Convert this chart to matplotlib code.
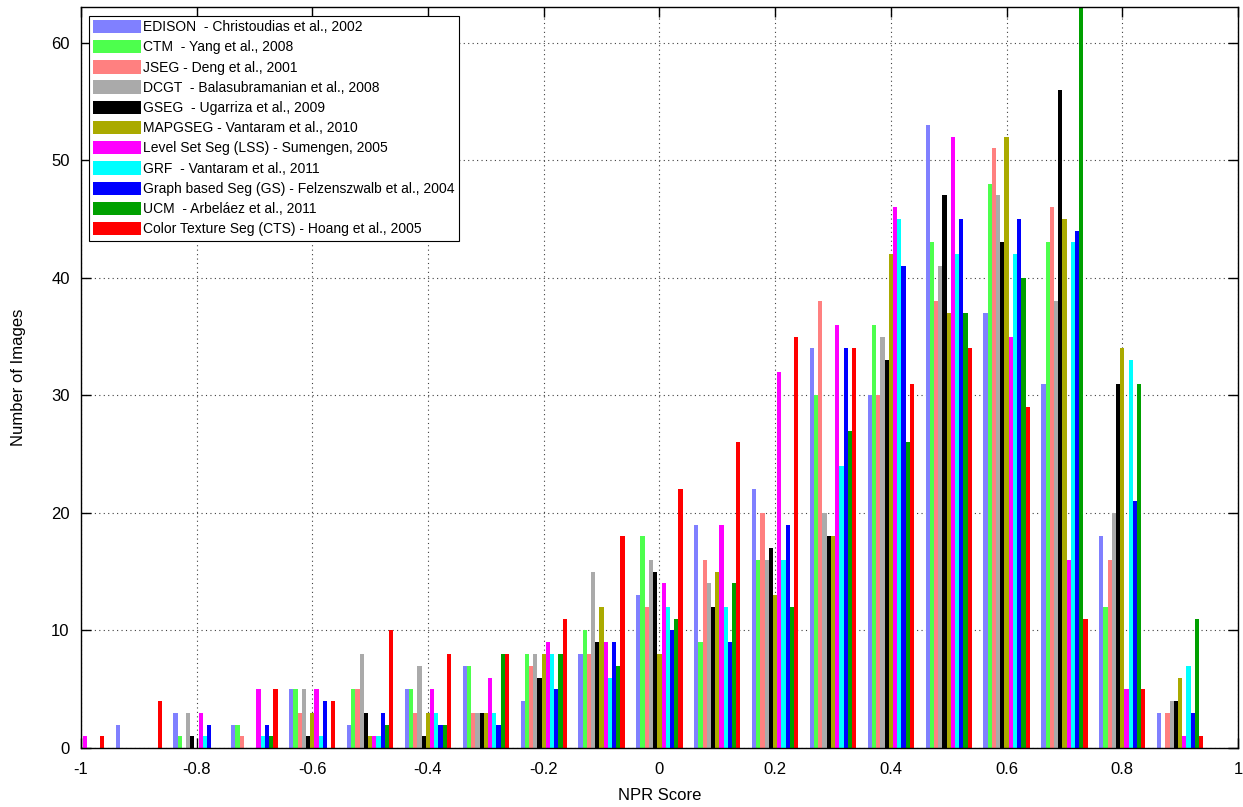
import numpy as np
import matplotlib
matplotlib.use('Agg')
import matplotlib.pyplot as plt

plt.rcParams['font.family'] = ['Liberation Sans', 'DejaVu Sans']

bin_centers = [-1.0, -0.9, -0.8, -0.7, -0.6, -0.5, -0.4, -0.3, -0.2, -0.1,
               0.0, 0.1, 0.2, 0.3, 0.4, 0.5, 0.6, 0.7, 0.8, 0.9]

labels = ['EDISON  - Christoudias et al., 2002',
          'CTM  - Yang et al., 2008',
          'JSEG - Deng et al., 2001',
          'DCGT  - Balasubramanian et al., 2008',
          'GSEG  - Ugarriza et al., 2009',
          'MAPGSEG - Vantaram et al., 2010',
          'Level Set Seg (LSS) - Sumengen, 2005',
          'GRF  - Vantaram et al., 2011',
          'Graph based Seg (GS) - Felzenszwalb et al., 2004',
          'UCM  - Arbeláez et al., 2011',
          'Color Texture Seg (CTS) - Hoang et al., 2005']

colors = ['#8080FF', '#4DFF4D', '#FF8080', '#AAAAAA', '#000000', '#AAAA00',
          '#FF00FF', '#00FFFF', '#0000FF', '#00A000', '#FF0000']

edison = [0, 2, 3, 2, 5, 2, 5, 7, 4, 8, 13, 19, 22, 34, 30, 53, 37, 31, 18, 3]
ctm = [0, 0, 1, 2, 5, 5, 5, 7, 8, 10, 18, 9, 16, 30, 36, 43, 48, 43, 12, 0]
jseg = [0, 0, 0, 1, 3, 5, 3, 3, 7, 8, 12, 16, 20, 38, 30, 38, 51, 46, 16, 3]
dcgt = [0, 0, 3, 0, 5, 8, 7, 3, 8, 15, 16, 14, 16, 20, 35, 41, 47, 38, 20, 4]
gseg = [0, 0, 1, 0, 1, 3, 1, 3, 6, 9, 15, 12, 17, 18, 33, 47, 43, 56, 31, 4]
mapgseg = [0, 0, 0, 0, 3, 1, 3, 3, 8, 12, 8, 15, 13, 18, 42, 37, 52, 45, 34, 6]
lss = [1, 0, 3, 5, 5, 1, 5, 6, 9, 9, 14, 19, 32, 36, 46, 52, 35, 16, 5, 1]
grf = [0, 0, 1, 1, 1, 1, 3, 3, 8, 6, 12, 12, 16, 24, 45, 42, 42, 43, 33, 7]
gs = [0, 0, 2, 2, 4, 3, 2, 2, 5, 9, 10, 9, 19, 34, 41, 45, 45, 44, 21, 3]
ucm = [0, 0, 0, 1, 0, 2, 2, 8, 8, 7, 11, 14, 12, 27, 26, 37, 40, 63, 31, 11]
cts = [1, 4, 0, 5, 4, 10, 8, 8, 11, 18, 22, 26, 35, 34, 31, 34, 29, 11, 5, 1]

series = [edison, ctm, jseg, dcgt, gseg, mapgseg, lss, grf, gs, ucm, cts]

fig = plt.figure(figsize=(12.43, 8.07), dpi=100)
ax = fig.add_axes([0.065, 0.073, 0.931, 0.918])

n = len(series)
w = 0.08 / n
x = np.array(bin_centers)
for i, vals in enumerate(series):
    ax.bar(x + (i - (n - 1) / 2) * w, vals, width=w, color=colors[i],
           linewidth=0, label=labels[i])

ax.set_xlim(-1, 1)
ax.set_ylim(0, 63)
ax.set_xticks(np.arange(-1, 1.01, 0.2))
ax.set_xticklabels(['-1', '-0.8', '-0.6', '-0.4', '-0.2', '0', '0.2', '0.4', '0.6', '0.8', '1'])
ax.set_yticks(range(0, 61, 10))
ax.tick_params(direction='in', length=7, top=True, right=True, labelsize=12, width=1)
ax.tick_params(axis='x', pad=10)
ax.tick_params(axis='y', pad=8)
ax.grid(True, linestyle=(0, (1, 3)), color='0.25', linewidth=0.8)
ax.set_axisbelow(True)
for s in ax.spines.values():
    s.set_linewidth(1)

ax.set_xlabel('NPR Score', fontsize=12, labelpad=8)
ax.set_ylabel('Number of Images', fontsize=12, labelpad=18)

leg = ax.legend(loc='upper left', fontsize=10, fancybox=False, framealpha=1,
                edgecolor='black', handlelength=3.4, handleheight=1.1,
                handletextpad=0.2, labelspacing=0.42, borderpad=0.3,
                borderaxespad=0.6)
leg.get_frame().set_linewidth(0.8)

fig.savefig('out.png', dpi=100)
